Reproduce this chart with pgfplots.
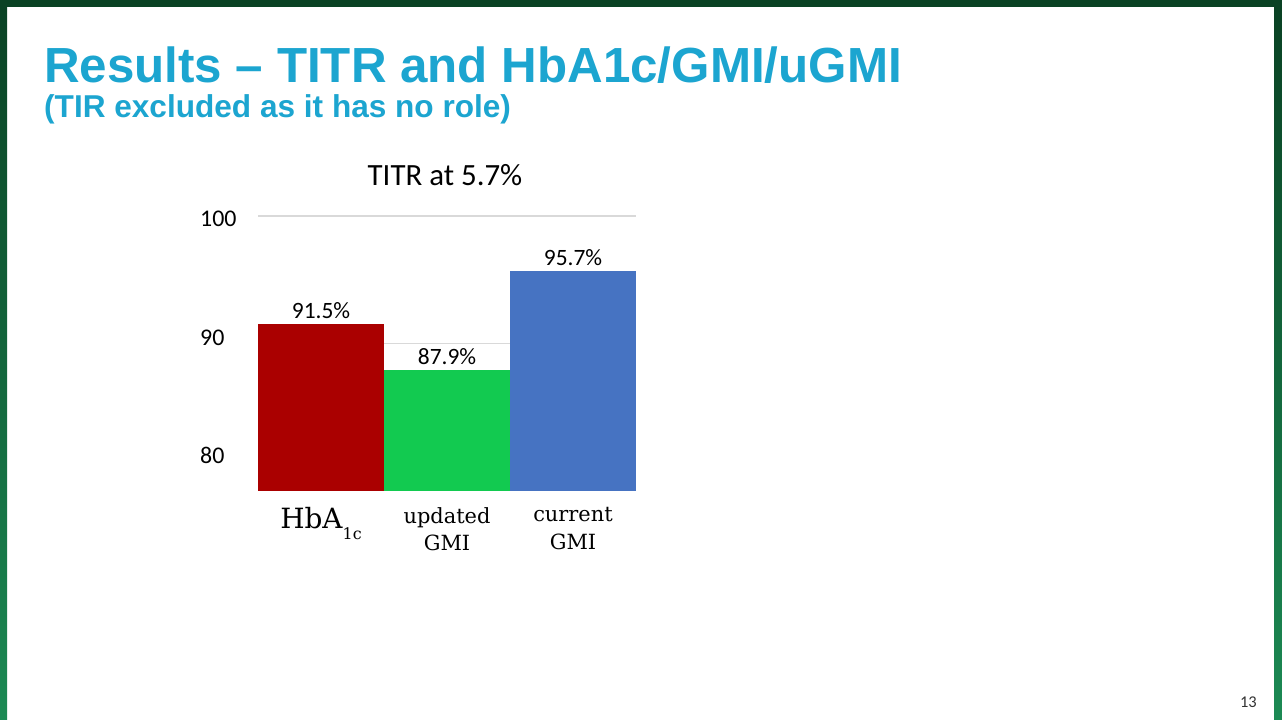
\documentclass[border=0pt]{standalone}
\usepackage{pgfplots}
\pgfplotsset{compat=1.18}
\usepackage{fontspec}
\setmainfont{Carlito}
\newfontfamily\headfont{Liberation Sans}
\newfontfamily\catfont{DejaVu Serif}

\definecolor{gdark}{RGB}{10,66,36}
\definecolor{glight}{RGB}{28,138,84}
\definecolor{titleblue}{RGB}{28,165,208}
\definecolor{barred}{RGB}{170,0,0}
\definecolor{bargreen}{RGB}{18,202,80}
\definecolor{barblue}{RGB}{70,115,194}

\begin{document}
\begin{tikzpicture}[x=1bp,y=1bp]
\useasboundingbox (0,0) rectangle (1282,720);
% slide background and frame
\fill[white] (0,0) rectangle (1282,720);
\shade[top color=gdark, bottom color=glight] (0,0) rectangle (7,713);
\shade[top color=gdark, bottom color=glight] (1274,0) rectangle (1282,713);
\fill[gdark] (0,713) rectangle (1282,720);

% headings
\node[anchor=base west, inner sep=0pt, text=titleblue,
      font=\headfont\bfseries\fontsize{49.5}{52}\selectfont] at (44,637)
      {Results – TITR and HbA1c/GMI/uGMI};
\node[anchor=base west, inner sep=0pt, text=titleblue,
      font=\headfont\bfseries\fontsize{31.7}{34}\selectfont] at (44,602)
      {(TIR excluded as it has no role)};
\node[anchor=base, inner sep=0pt, font=\fontsize{31}{31}\selectfont] at (445,534)
      {TITR at 5.7\%};
\node[anchor=base east, inner sep=0pt, text=black!80, font=\fontsize{16.5}{16.5}\selectfont] at (1257,12) {13};

\begin{axis}[
    at={(258bp,229bp)}, anchor=south west,
    scale only axis,
    width=378bp, height=275bp,
    xmin=-0.5, xmax=2.5,
    ymin=78.4, ymax=100,
    axis line style={draw=none},
    major tick length=0pt,
    xtick={0,1,2},
    xticklabels={
        {\fontsize{28}{30}\selectfont HbA\raisebox{-0.4em}{\fontsize{16}{16}\selectfont 1c}},
        {updated\\GMI},
        {current\\GMI}},
    xticklabel style={font=\catfont\fontsize{21}{28}\selectfont, align=center,
        anchor=north, inner sep=0pt, yshift=-16bp},
    ytick={81.2,90.45,99.8},
    yticklabels={80,90,100},
    yticklabel style={font=\fontsize{24}{24}\selectfont, anchor=west,
        inner sep=0pt, xshift=-58bp},
    extra y ticks={90,100},
    extra y tick labels={},
    extra y tick style={grid=major},
    major grid style={draw=black!15, line width=1.6bp},
    bar width=126bp,
    nodes near coords={\pgfmathprintnumber[fixed,fixed zerofill,precision=1,assume math mode=true]{\pgfplotspointmeta}\%},
    nodes near coords style={font=\fontsize{23.5}{23.5}\selectfont, anchor=south, yshift=2bp, text=black},
]
\addplot[ybar, draw=none, fill=barred]   coordinates {(0,91.5)};
\addplot[ybar, draw=none, fill=bargreen] coordinates {(1,87.9)};
\addplot[ybar, draw=none, fill=barblue]  coordinates {(2,95.7)};
\end{axis}
\end{tikzpicture}
\end{document}
